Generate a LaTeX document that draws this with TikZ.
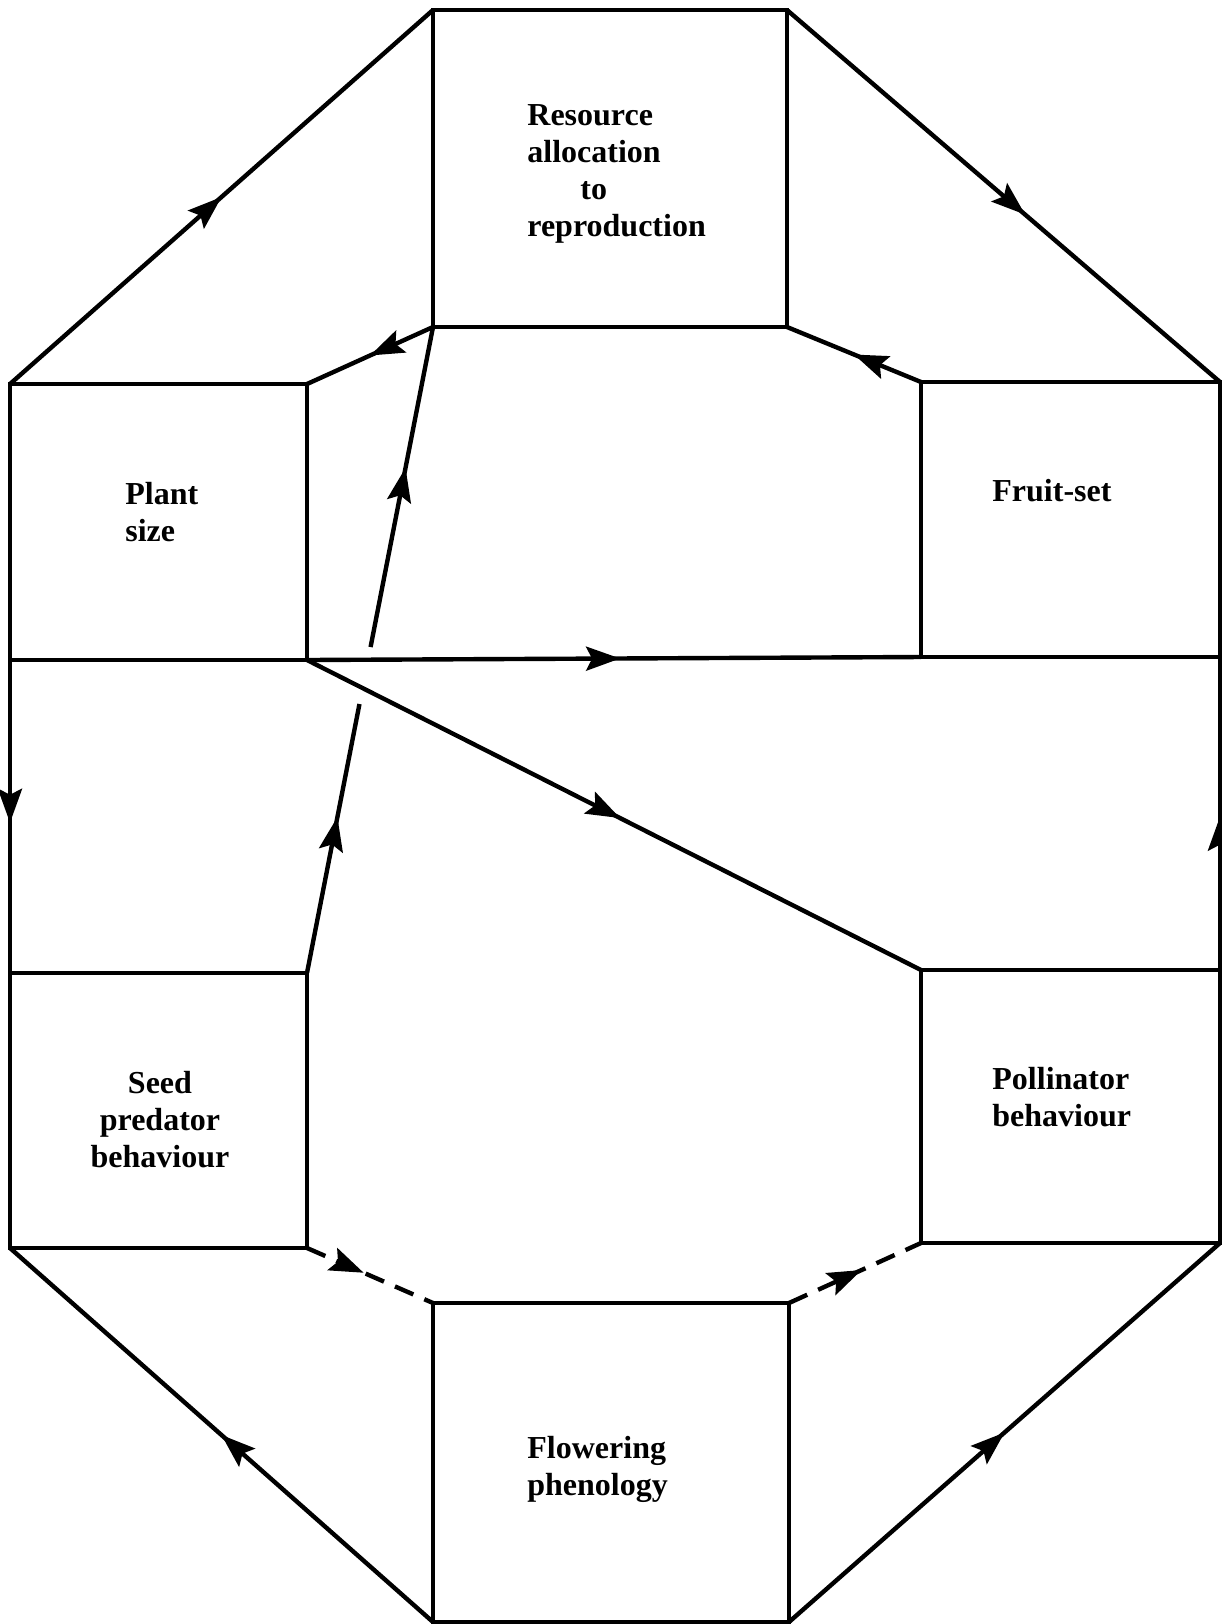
\documentclass[tikz,border=0pt]{standalone}
\usepackage{fontspec}
\setmainfont{Liberation Serif}
\usetikzlibrary{arrows.meta,decorations.markings,calc}
\tikzset{
  box/.style={draw, line width=2.2pt, rectangle, inner sep=0pt, outer sep=0pt},
  lbl/.style={font=\bfseries\fontsize{16pt}{18.5pt}\selectfont, inner sep=0pt},
  conn/.style={line width=2.2pt},
  dconn/.style={line width=2.2pt, dash pattern=on 10pt off 6pt},
  midarrow/.style={postaction={decorate,decoration={markings,mark=at position #1 with {\arrow{Stealth[length=17pt,width=12pt,inset=3pt]}}}}}
}
\begin{document}
\begin{tikzpicture}[x=0.5pt,y=-0.5pt]
\useasboundingbox (0,0) rectangle (1222,1624);
% boxes
\node[box, minimum width=177pt, minimum height=158.5pt] (res) at (610,168.5) {};
\node[box, minimum width=148.5pt, minimum height=138pt] (plant) at (158.5,522) {};
\node[box, minimum width=149.5pt, minimum height=137.5pt] (fruit) at (1070.5,519.5) {};
\node[box, minimum width=148.5pt, minimum height=137.5pt] (seed) at (158.5,1110.5) {};
\node[box, minimum width=149.5pt, minimum height=136.5pt] (poll) at (1070.5,1106.5) {};
\node[box, minimum width=178pt, minimum height=159.5pt] (flow) at (611,1462.5) {};
% labels
\node[lbl, align=left, anchor=west] (tres) at (527,173.5) {Resource\\allocation\\\hspace*{26.5pt}to\\reproduction};
\node[lbl, align=left, anchor=west] (tplant) at (125,512) {Plant\\size};
\node[lbl, align=left, anchor=west] (tfruit) at (992,491) {Fruit-set};
\node[lbl, align=center] (tseed) at (160,1120) {Seed\\predator\\behaviour};
\node[lbl, align=left, anchor=west] (tpoll) at (992,1097) {Pollinator\\behaviour};
\node[lbl, align=left, anchor=west] (tflow) at (527,1469.5) {Flowering\\phenology};
% connectors
\draw[conn, midarrow=0.5] (plant.north west) -- (res.north west);
\draw[conn, midarrow=0.55] (res.north east) -- (fruit.north east);
\draw[conn, midarrow=0.5] (res.south west) -- (plant.north east);
\draw[conn, midarrow=0.5] (fruit.north west) -- (res.south east);
\draw[conn, midarrow=0.51] (plant.south east) -- (fruit.south west);
\draw[conn, midarrow=0.51] (plant.south east) -- (poll.north west);
\draw[conn, midarrow=0.52] (plant.south west) -- (seed.north west);
\draw[conn, midarrow=0.49] (poll.north east) -- (fruit.south east);
\coordinate (g1) at ($(seed.north east)!0.4164!(res.south west)$);
\coordinate (g2) at ($(seed.north east)!0.5046!(res.south west)$);
\draw[conn, midarrow=0.58] (seed.north east) -- (g1);
\draw[conn, midarrow=0.56] (g2) -- (res.south west);
\draw[conn, midarrow=0.5] (flow.south west) -- (seed.south west);
\draw[conn, midarrow=0.5] (flow.south east) -- (poll.south east);
\draw[dconn, midarrow=0.45] (seed.south east) -- (flow.north west);
\draw[dconn, midarrow=0.55] (flow.north east) -- (poll.south west);
\end{tikzpicture}
\end{document}
